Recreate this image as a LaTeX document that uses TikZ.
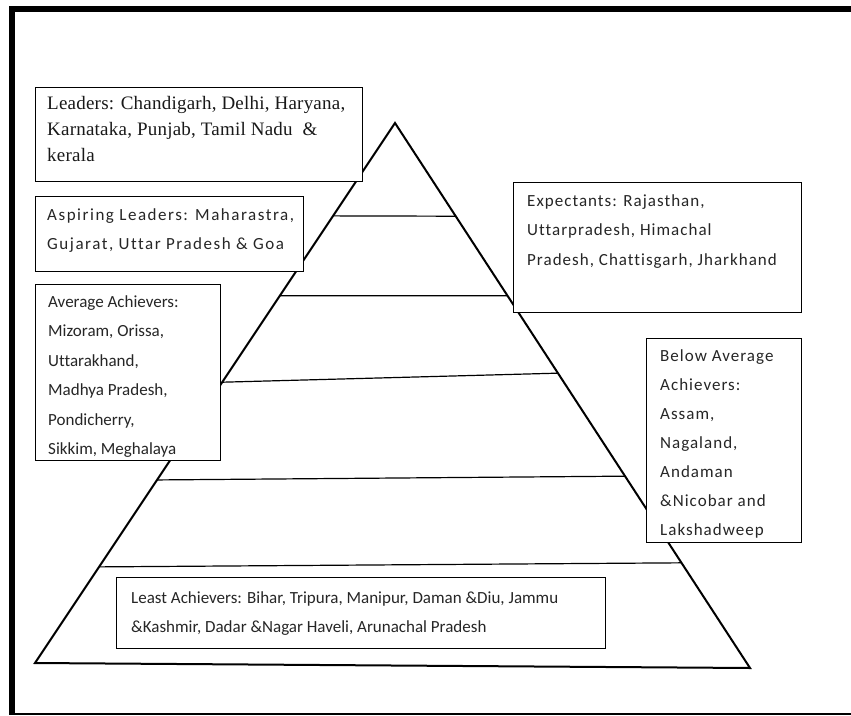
\documentclass[tikz,border=0pt]{standalone}
\usepackage{fontspec}
\setmainfont[LetterSpace=1.2]{Liberation Serif}
\newfontfamily\labelfont[Ligatures=CommonOff]{Carlito}
\newfontfamily\labelfontwide[Ligatures=CommonOff, LetterSpace=6]{Carlito}
\newfontfamily\labelfontwider[Ligatures=CommonOff, LetterSpace=9]{Carlito}
\usetikzlibrary{calc}
\begin{document}
\begin{tikzpicture}[x=1pt,y=-1pt,
  box/.style={draw=black, fill=white, line width=1.3pt, anchor=north west, inner sep=0pt},
  serif/.style={anchor=north west, inner sep=0pt, align=left, text=black!90,
    font=\fontsize{19}{26}\selectfont},
  sans/.style={anchor=north west, inner sep=0pt, align=left, text=black!85,
    font=\labelfont\fontsize{17}{29.5}\selectfont},
  sanswide/.style={sans, font=\labelfontwide\fontsize{17}{29.5}\selectfont},
  sanswider/.style={sans, font=\labelfontwider\fontsize{17}{29.5}\selectfont},
  edge/.style={line width=2pt, line join=miter},
  tier/.style={line width=1.2pt}]

\useasboundingbox (0,0) rectangle (851,715);
\fill[white] (0,0) rectangle (851,715);

% outer frame
\draw[line width=6pt] (9,9) -- (851,9);
\draw[line width=6pt] (12,6) -- (12,715);
\draw[line width=1.2pt] (9,714) -- (851,714);

% pyramid outline
\coordinate (apex) at (395,123);
\coordinate (bl) at (35,663);
\coordinate (br) at (750,668);
\draw[edge] (bl) -- (apex) -- (br) -- cycle;

% tier dividers
\draw[tier] ($(apex)!0.172!(bl)$) -- ($(apex)!0.171!(br)$);
\draw[tier] ($(apex)!0.320!(bl)$) -- ($(apex)!0.317!(br)$);
\draw[tier] ($(apex)!0.480!(bl)$) -- ($(apex)!0.459!(br)$);
\draw[tier] ($(apex)!0.661!(bl)$) -- ($(apex)!0.648!(br)$);
\draw[tier] ($(apex)!0.822!(bl)$) -- ($(apex)!0.807!(br)$);

% label boxes
\node[box, minimum width=327, minimum height=94] (lead) at (35,87) {};
\node[box, minimum width=268, minimum height=75] (asp) at (35,196) {};
\node[box, minimum width=288, minimum height=130] (exp) at (513,182) {};
\node[box, minimum width=185, minimum height=176] (avg) at (35,284) {};
\node[box, minimum width=155, minimum height=204] (below) at (646,338) {};
\node[box, minimum width=489, minimum height=71] (least) at (116,577) {};

% label texts
\node[serif] (leadtxt) at ([shift={(12,9)}]lead.north west)
  {Leaders: Chandigarh, Delhi, Haryana,\\Karnataka, Punjab, Tamil Nadu\ \ \&\\kerala};
\node[sanswider] (asptxt) at ([shift={(12,12)}]asp.north west)
  {Aspiring Leaders: Maharastra,\\Gujarat, Uttar Pradesh \& Goa};
\node[sanswide] (exptxt) at ([shift={(14,12)}]exp.north west)
  {Expectants: Rajasthan,\\Uttarpradesh, Himachal\\Pradesh, Chattisgarh, Jharkhand};
\node[sans] (avgtxt) at ([shift={(13,11)}]avg.north west)
  {Average Achievers:\\Mizoram, Orissa,\\Uttarakhand,\\Madhya Pradesh,\\Pondicherry,\\Sikkim, Meghalaya};
\node[sanswide, font=\labelfontwide\fontsize{17}{29}\selectfont] (belowtxt)
  at ([shift={(14,11)}]below.north west)
  {Below Average\\Achievers:\\Assam,\\Nagaland,\\Andaman\\\&Nicobar and\\Lakshadweep};
\node[sans] (leasttxt) at ([shift={(15,14)}]least.north west)
  {Least Achievers: Bihar, Tripura, Manipur, Daman \&Diu, Jammu\\\&Kashmir, Dadar \&Nagar Haveli, Arunachal Pradesh};
\end{tikzpicture}
\end{document}
